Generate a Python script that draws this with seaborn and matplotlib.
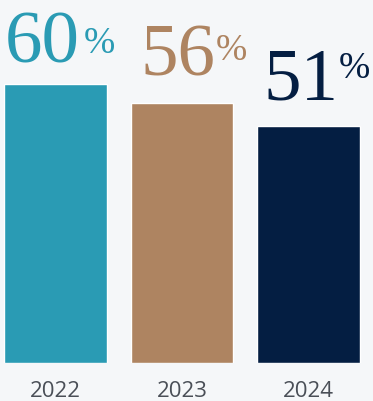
import matplotlib
matplotlib.use("Agg")
import matplotlib.pyplot as plt
import seaborn as sns
import pandas as pd

categories = ["2022", "2023", "2024"]
values = [60, 56, 51]
bar_colors = ["#2a9bb4", "#ae8461", "#041e42"]

BG = "#f5f7f9"
sns.set_theme(style="white")
plt.rcParams["font.family"] = ["Open Sans", "DejaVu Sans"]

df = pd.DataFrame({"year": categories, "value": values})

fig = plt.figure(figsize=(3.73, 4.02), dpi=100, facecolor=BG)
ax = fig.add_axes([0, 38 / 402, 1, 364 / 402])
ax.set_facecolor(BG)

sns.barplot(data=df, x="year", y="value", hue="year", palette=bar_colors,
            width=0.814, legend=False, ax=ax, saturation=1)

ax.set_xlim(-0.439, 2.51)
ax.set_ylim(0, 78.3)
for s in ax.spines.values():
    s.set_visible(False)
ax.set_yticks([])
ax.set_xlabel("")
ax.set_ylabel("")
ax.tick_params(axis="x", length=0, pad=12, labelsize=16, labelcolor="#4a4f57")

# label offsets in pixels from bar-top centre (digits, percent sign)
num_off = [(-50.5, 23), (-41.5, 28), (-45.5, 27)]
pct_off = [(28, 32), (34, 44), (30, 49)]
serif = ["Liberation Serif", "DejaVu Serif"]
for i, (v, c) in enumerate(zip(values, bar_colors)):
    ax.annotate(f"{v}", xy=(i, v), xytext=num_off[i], textcoords="offset pixels",
                ha="left", va="baseline", fontsize=54, color=c, family=serif)
    ax.annotate("%", xy=(i, v), xytext=pct_off[i], textcoords="offset pixels",
                ha="left", va="baseline", fontsize=27, color=c, family=serif)

fig.savefig("out.png", dpi=100, facecolor=BG)
